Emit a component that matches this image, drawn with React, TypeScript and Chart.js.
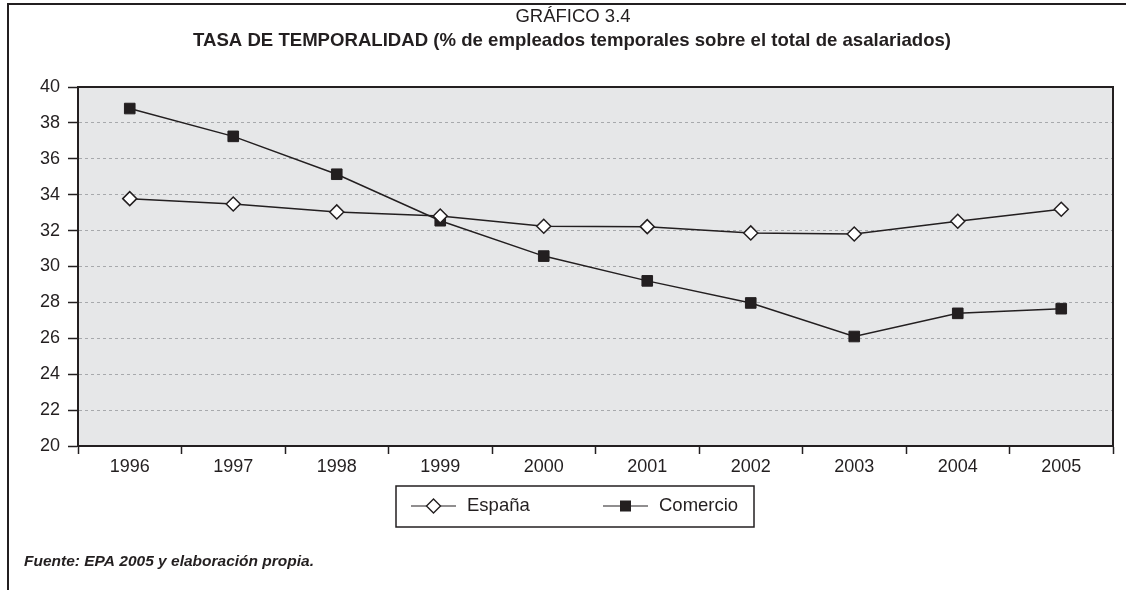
import React, { useEffect, useRef } from "react";
import { Chart, registerables } from "chart.js";

Chart.register(...registerables);

const FONT = "'Liberation Sans', Arial, Helvetica, sans-serif";
const INK = "#231f20";

const years = ["1996", "1997", "1998", "1999", "2000", "2001", "2002", "2003", "2004", "2005"];
const espana = [33.78, 33.48, 33.04, 32.81, 32.24, 32.22, 31.87, 31.81, 32.52, 33.19];
const comercio = [38.8, 37.25, 35.14, 32.55, 30.58, 29.2, 27.97, 26.1, 27.39, 27.65];
const yMin = 20;
const yMax = 40;
const yStep = 2;

const seriesNames = ["España", "Comercio"];
const chartNumber = "GRÁFICO 3.4";
const chartTitle = "TASA DE TEMPORALIDAD (% de empleados temporales sobre el total de asalariados)";
const sourceNote = "Fuente: EPA 2005 y elaboración propia.";

const decorPlugin = {
  id: "decor",
  beforeDraw(chart: any) {
    const { ctx, chartArea } = chart;
    ctx.save();
    ctx.fillStyle = "#e6e7e8";
    ctx.fillRect(chartArea.left, chartArea.top, chartArea.right - chartArea.left, chartArea.bottom - chartArea.top);
    ctx.restore();
  },
  afterDraw(chart: any) {
    const { ctx, chartArea } = chart;
    ctx.save();
    // outer frame (top + left)
    ctx.strokeStyle = INK;
    ctx.lineWidth = 2;
    ctx.beginPath();
    ctx.moveTo(8, 590);
    ctx.lineTo(8, 4);
    ctx.lineTo(1126, 4);
    ctx.stroke();

    // plot top + right border
    ctx.lineWidth = 2;
    ctx.beginPath();
    ctx.moveTo(chartArea.left, chartArea.top);
    ctx.lineTo(chartArea.right, chartArea.top);
    ctx.lineTo(chartArea.right, chartArea.bottom);
    ctx.stroke();

    // titles
    ctx.fillStyle = INK;
    ctx.textAlign = "center";
    ctx.textBaseline = "middle";
    ctx.font = `18.5px ${FONT}`;
    ctx.fillText(chartNumber, 573, 17);
    ctx.font = `bold 18.6px ${FONT}`;
    ctx.fillText(chartTitle, 572, 41);

    // footnote
    ctx.textAlign = "left";
    ctx.font = `italic bold 15.5px ${FONT}`;
    ctx.fillText(sourceNote, 24, 562);

    // legend
    const lx = 396, ly = 486, lw = 358, lh = 41;
    ctx.lineWidth = 1.5;
    ctx.strokeStyle = INK;
    ctx.strokeRect(lx, ly, lw, lh);
    const cy = 506;
    ctx.lineWidth = 1.2;
    // España
    ctx.beginPath();
    ctx.moveTo(411, cy);
    ctx.lineTo(456, cy);
    ctx.stroke();
    ctx.beginPath();
    const dx = 433.5, r = 7;
    ctx.moveTo(dx - r, cy);
    ctx.lineTo(dx, cy - r);
    ctx.lineTo(dx + r, cy);
    ctx.lineTo(dx, cy + r);
    ctx.closePath();
    ctx.fillStyle = "#ffffff";
    ctx.fill();
    ctx.lineWidth = 1.4;
    ctx.stroke();
    // Comercio
    ctx.lineWidth = 1.2;
    ctx.beginPath();
    ctx.moveTo(603, cy);
    ctx.lineTo(648, cy);
    ctx.stroke();
    ctx.fillStyle = INK;
    ctx.fillRect(625.5 - 5.5, cy - 5.5, 11, 11);
    ctx.fillStyle = INK;
    ctx.font = `18.5px ${FONT}`;
    ctx.textBaseline = "middle";
    ctx.fillText(seriesNames[0], 467, cy);
    ctx.fillText(seriesNames[1], 659, cy);
    ctx.restore();
  },
};

export default function App() {
  const ref = useRef<HTMLCanvasElement | null>(null);
  useEffect(() => {
    document.body.style.margin = "0";
    if (!ref.current) return;
    Chart.defaults.font.family = FONT;
    const chart = new Chart(ref.current, {
      type: "line",
      data: {
        labels: years,
        datasets: [
          {
            label: seriesNames[0],
            data: espana,
            borderColor: INK,
            borderWidth: 1.5,
            pointStyle: "rectRot",
            pointRadius: 7,
            pointBackgroundColor: "#ffffff",
            pointBorderColor: INK,
            pointBorderWidth: 1.5,
            tension: 0,
          },
          {
            label: seriesNames[1],
            data: comercio,
            borderColor: INK,
            borderWidth: 1.5,
            pointStyle: "rect",
            pointRadius: 7.5,
            pointBackgroundColor: INK,
            pointBorderColor: INK,
            pointBorderWidth: 1,
            tension: 0,
          },
        ],
      },
      options: {
        responsive: false,
        animation: false,
        layout: { padding: { left: 0, top: 87, right: 13, bottom: 104 } },
        plugins: {
          legend: { display: false },
          title: { display: false },
          tooltip: { enabled: false },
        },
        scales: {
          x: {
            type: "category",
            offset: true,
            grid: {
              offset: true,
              drawOnChartArea: false,
              tickLength: 8,
              tickColor: INK,
              tickWidth: 1.5,
            },
            border: { display: true, color: INK, width: 2 },
            ticks: { color: INK, font: { size: 18, family: FONT }, padding: 2, maxRotation: 0 },
            afterFit: (s: any) => {
              s.height = 40;
            },
          },
          y: {
            min: yMin,
            max: yMax,
            ticks: { stepSize: yStep, color: INK, font: { size: 18, family: FONT }, padding: 8 },
            grid: {
              color: (c: any) =>
                c.tick && (c.tick.value === yMin || c.tick.value === yMax) ? "rgba(0,0,0,0)" : "#a7a9ac",
              lineWidth: 1,
              tickLength: 10,
              tickColor: INK,
              tickWidth: 1.5,
              tickBorderDash: [],
            },
            border: { display: true, color: INK, width: 2, dash: [3, 3] },
            afterFit: (s: any) => {
              s.width = 78;
            },
          },
        },
      },
      plugins: [decorPlugin],
    });
    return () => chart.destroy();
  }, []);
  return <canvas ref={ref} width={1126} height={590} style={{ display: "block" }} />;
}
